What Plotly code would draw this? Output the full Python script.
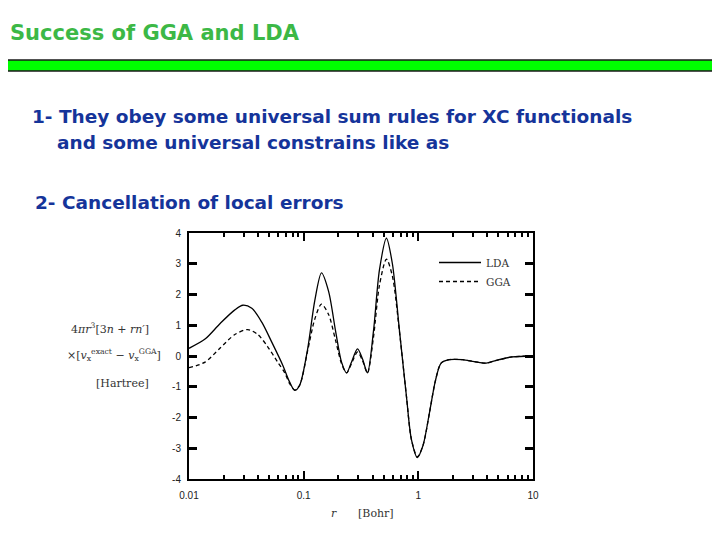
import plotly.graph_objects as go

# ---- data ----
r_lda = [0.0100, 0.0138, 0.0186, 0.0251, 0.0295, 0.0353, 0.0431, 0.0527, 0.0657, 0.0755,
         0.0835, 0.0923, 0.108, 0.125, 0.143, 0.165, 0.190, 0.214, 0.237, 0.261,
         0.295, 0.326, 0.360, 0.406, 0.458, 0.527, 0.594, 0.684, 0.787, 0.869,
         0.980, 1.10, 1.25, 1.41, 1.58, 1.86, 2.42, 3.07, 3.90, 5.06, 6.57, 10.0]
v_lda = [0.25, 0.55, 1.05, 1.50, 1.65, 1.55, 1.10, 0.45, -0.30, -0.85,
         -1.12, -0.95, 0.20, 1.80, 2.70, 2.10, 0.80, -0.20, -0.55, -0.20,
         0.23, -0.10, -0.55, 0.80, 2.80, 3.83, 3.00, 0.84, -1.30, -2.70,
         -3.30, -2.90, -1.85, -0.80, -0.23, -0.12, -0.12, -0.18, -0.23, -0.12, -0.03, 0.00]

r_gga = [0.0100, 0.0138, 0.0186, 0.0251, 0.0326, 0.0398, 0.0486, 0.0594, 0.0684, 0.0755,
         0.0835, 0.0923, 0.108, 0.125, 0.143, 0.165, 0.190, 0.214, 0.237, 0.261,
         0.295, 0.326, 0.360, 0.406, 0.458, 0.527, 0.594, 0.684, 0.787, 0.869,
         0.980, 1.10, 1.25, 1.41, 1.58, 1.86, 2.42, 3.07, 3.90, 5.06, 6.57, 10.0]
v_gga = [-0.38, -0.20, 0.25, 0.70, 0.86, 0.70, 0.30, -0.20, -0.55, -0.90,
         -1.10, -0.95, 0.15, 1.20, 1.69, 1.35, 0.50, -0.25, -0.55, -0.25,
         0.13, -0.15, -0.55, 0.60, 2.30, 3.15, 2.60, 0.80, -1.30, -2.70,
         -3.28, -2.90, -1.85, -0.80, -0.23, -0.12, -0.12, -0.18, -0.23, -0.12, -0.03, 0.00]

x_ticks = [0.01, 0.1, 1, 10]
x_ticktext = ["0.01", "0.1", "1", "10"]
y_ticks = [-4, -3, -2, -1, 0, 1, 2, 3, 4]
y_ticktext = ["-4", "-3", "-2", "-1", "0", "1", "2", "3", "4"]
x_minor = [m * d for d in (0.01, 0.1, 1) for m in range(2, 10)]

# ---- layout geometry (pixels, in screen coordinates; page has an 8px body margin) ----
OFF = 8
W, H = 712, 524
L, R, T, B = 189 - OFF, 533 - OFF, 233 - OFF, 479 - OFF
PW, PH = R - L, B - T


def px(x):
    return (x - OFF - L) / PW


def py(y):
    return (B - (y - OFF)) / PH


fig = go.Figure()
fig.add_trace(go.Scatter(x=r_lda, y=v_lda, mode="lines", name="LDA",
                         line=dict(color="black", width=1.3, shape="spline", smoothing=0.8)))
fig.add_trace(go.Scatter(x=r_gga, y=v_gga, mode="lines", name="GGA",
                         line=dict(color="black", width=1.3, dash="4px,3px", shape="spline", smoothing=0.8)))

axis_common = dict(showline=True, linecolor="black", linewidth=2, mirror="ticks",
                   ticks="inside", tickcolor="black", showgrid=False, zeroline=False,
                   tickfont=dict(family="Liberation Sans", size=10, color="#222"))

fig.update_xaxes(type="log", range=[-2, 1], tickvals=x_ticks, ticktext=x_ticktext,
                 ticklen=8, tickwidth=2, ticklabelstandoff=6,
                 minor=dict(ticks="inside", tickvals=x_minor, ticklen=4, tickwidth=1.5, tickcolor="black"),
                 **axis_common)
fig.update_yaxes(range=[-4, 4], tickvals=y_ticks, ticktext=y_ticktext, ticklen=8, tickwidth=2.5,
                 ticklabelstandoff=4, **axis_common)

ann = []
sans = "DejaVu Sans"
ann.append(dict(x=px(8), y=py(33), text="<b>Success of GGA and LDA</b>", xanchor="left", yanchor="middle",
                font=dict(family=sans, size=21, color="#3cb846")))
blue = "#15349a"
ann.append(dict(x=px(30), y=py(116), text="<b>1- They obey some universal sum rules for XC functionals</b>",
                xanchor="left", yanchor="middle", font=dict(family=sans, size=18.5, color=blue)))
ann.append(dict(x=px(55), y=py(142), text="<b>and some universal constrains like as</b>",
                xanchor="left", yanchor="middle", font=dict(family=sans, size=18.5, color=blue)))
ann.append(dict(x=px(33), y=py(202), text="<b>2- Cancellation of local errors</b>",
                xanchor="left", yanchor="middle", font=dict(family=sans, size=18.5, color=blue)))
# y label
serif = dict(family="DejaVu Serif", size=11, color="#333")
ann.append(dict(x=px(110), y=py(328), text="4<i>πr</i><sup>3</sup>[3<i>n</i> + <i>rn′</i>]",
                xanchor="center", yanchor="middle", font=serif))
ann.append(dict(x=px(114), y=py(355), text="×[<i>v</i><sub>x</sub><sup>exact</sup> − <i>v</i><sub>x</sub><sup>GGA</sup>]",
                xanchor="center", yanchor="middle", font=serif))
ann.append(dict(x=px(122), y=py(383), text="[Hartree]", xanchor="center", yanchor="middle", font=serif))
# x label
ann.append(dict(x=px(334), y=py(513), text="<i>r</i>", xanchor="center", yanchor="middle", font=serif))
ann.append(dict(x=px(376), y=py(513), text="[Bohr]", xanchor="center", yanchor="middle", font=serif))

for a in ann:
    a.update(xref="paper", yref="paper", showarrow=False)

fig.update_layout(
    width=W, height=H, margin=dict(l=L, r=W - R, t=T, b=H - B, pad=0),
    paper_bgcolor="white", plot_bgcolor="white",
    annotations=ann,
    showlegend=True,
    legend=dict(x=px(434), y=py(248), xanchor="left", yanchor="top",
                bgcolor="rgba(0,0,0,0)", font=dict(family="DejaVu Serif", size=10.5, color="#333"),
                itemwidth=42, tracegroupgap=0),
    shapes=[dict(type="rect", xref="paper", yref="paper", x0=px(1), x1=px(730), y0=py(60), y1=py(71),
                 fillcolor="#00ff00", line=dict(color="#1a1a1a", width=1.5))],
)

fig.write_html("out.html")
